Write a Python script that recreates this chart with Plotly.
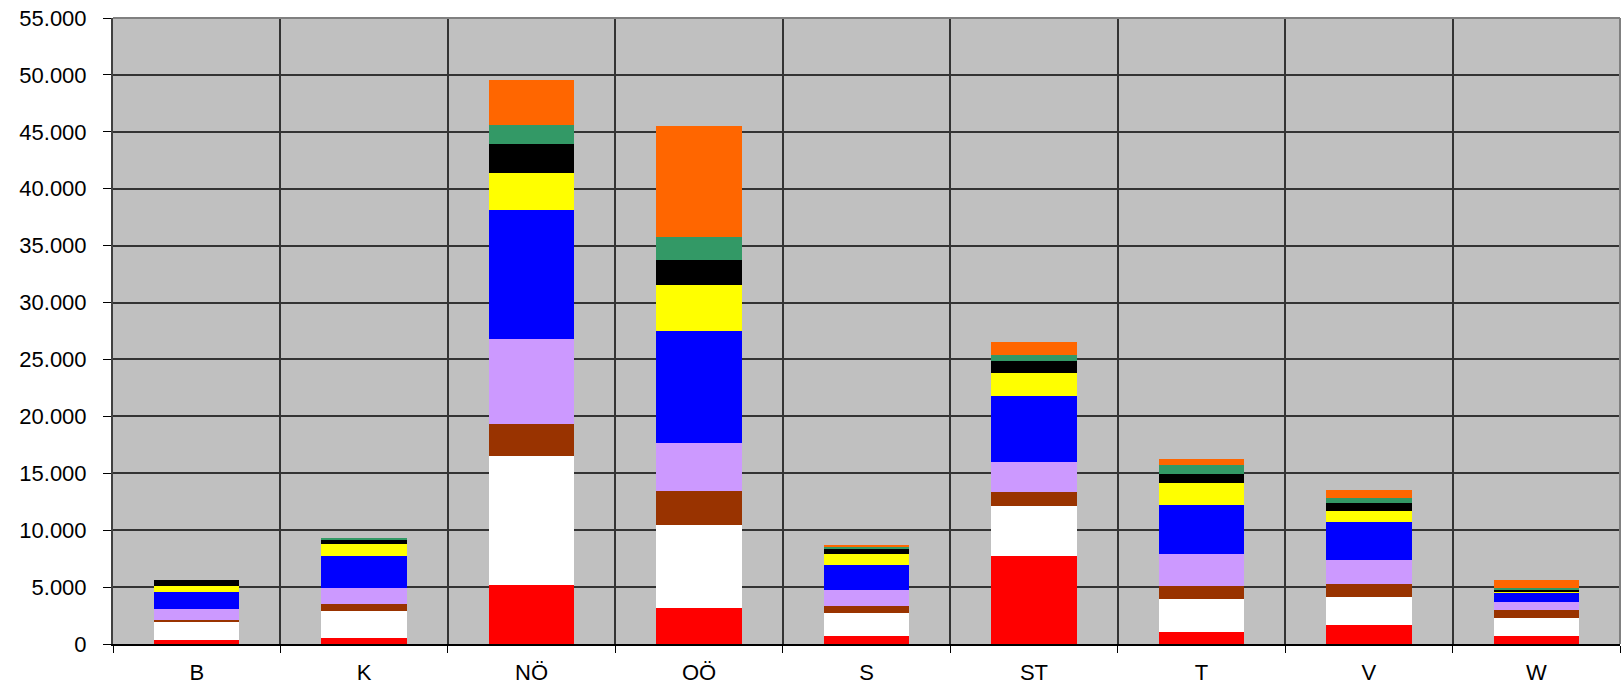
import plotly.graph_objects as go

categories = ["B", "K", "NÖ", "OÖ", "S", "ST", "T", "V", "W"]

series_names = ["Reihe 1", "Reihe 2", "Reihe 3", "Reihe 4", "Reihe 5",
                "Reihe 6", "Reihe 7", "Reihe 8", "Reihe 9"]
series_colors = ["#FF0000", "#FFFFFF", "#993300", "#CC99FF", "#0000FF",
                 "#FFFF00", "#000000", "#339966", "#FF6600"]

red      = [350,  527,  5200,  3180,  700,  7740, 1055, 1670, 703]
white    = [1584, 2374, 11330, 7270,  2020, 4390, 2901, 2460, 1583]
brown    = [176,  615,  2790,  2990,  615,  1230, 1142, 1140, 703]
lavender = [967,  1407, 7470,  4220,  1407, 2640, 2813, 2110, 703]
blue     = [1494, 2813, 11330, 9840,  2197, 5800, 4308, 3340, 821]
yellow   = [527,  1054, 3250,  4030,  967,  2020, 1933, 967,  117]
black    = [528,  352,  2530,  2210,  440,  1055, 792,  704,  117]
green    = [0,    176,  1700,  2010,  176,  527,  791,  439,  176]
orange   = [0,    0,    3930,  9740,  176,  1143, 527,  703,  703]

series_values = [red, white, brown, lavender, blue, yellow, black, green, orange]

fig = go.Figure()
for name, color, vals in zip(series_names, series_colors, series_values):
    fig.add_trace(go.Bar(
        x=categories, y=vals, name=name,
        marker=dict(color=color, line=dict(width=0)),
    ))

font_family = "Liberation Sans, Arial, sans-serif"

fig.update_layout(
    barmode="stack",
    bargap=0.49,
    width=1624, height=687,
    margin=dict(l=113, r=4, t=18, b=43, autoexpand=False),
    paper_bgcolor="#FFFFFF",
    plot_bgcolor="#C0C0C0",
    showlegend=False,
    separators=",.",
    font=dict(family=font_family, size=22, color="#000000"),
    xaxis=dict(
        type="category",
        automargin=False,
        showgrid=True, gridcolor="#333333", gridwidth=1.5,
        tickson="boundaries", ticks="outside", ticklen=7,
        tickcolor="#000000", tickwidth=1,
        ticklabelstandoff=8,
        showline=True, linecolor="#000000", linewidth=1.5,
        tickfont=dict(family=font_family, size=22, color="#000000"),
    ),
    yaxis=dict(
        automargin=False,
        range=[0, 55000], tick0=0, dtick=5000,
        tickformat=",d",
        ticklabeloverflow="allow",
        showgrid=True, gridcolor="#333333", gridwidth=1.5,
        ticks="outside", ticklen=8, tickcolor="#000000", tickwidth=1,
        ticklabelstandoff=12,
        showline=True, linecolor="#404040", linewidth=2,
        zeroline=False,
        tickfont=dict(family=font_family, size=22, color="#000000"),
    ),
    shapes=[
        dict(type="line", xref="paper", yref="paper", x0=0, x1=1, y0=1, y1=1,
             line=dict(color="#808080", width=2), layer="above"),
        dict(type="line", xref="paper", yref="paper", x0=1, x1=1, y0=0, y1=1,
             line=dict(color="#808080", width=2), layer="above"),
    ],
)

fig.write_html(
    "out.html",
    config={"displayModeBar": False},
    post_script="document.body.style.margin='0';document.documentElement.style.overflow='hidden';",
)
